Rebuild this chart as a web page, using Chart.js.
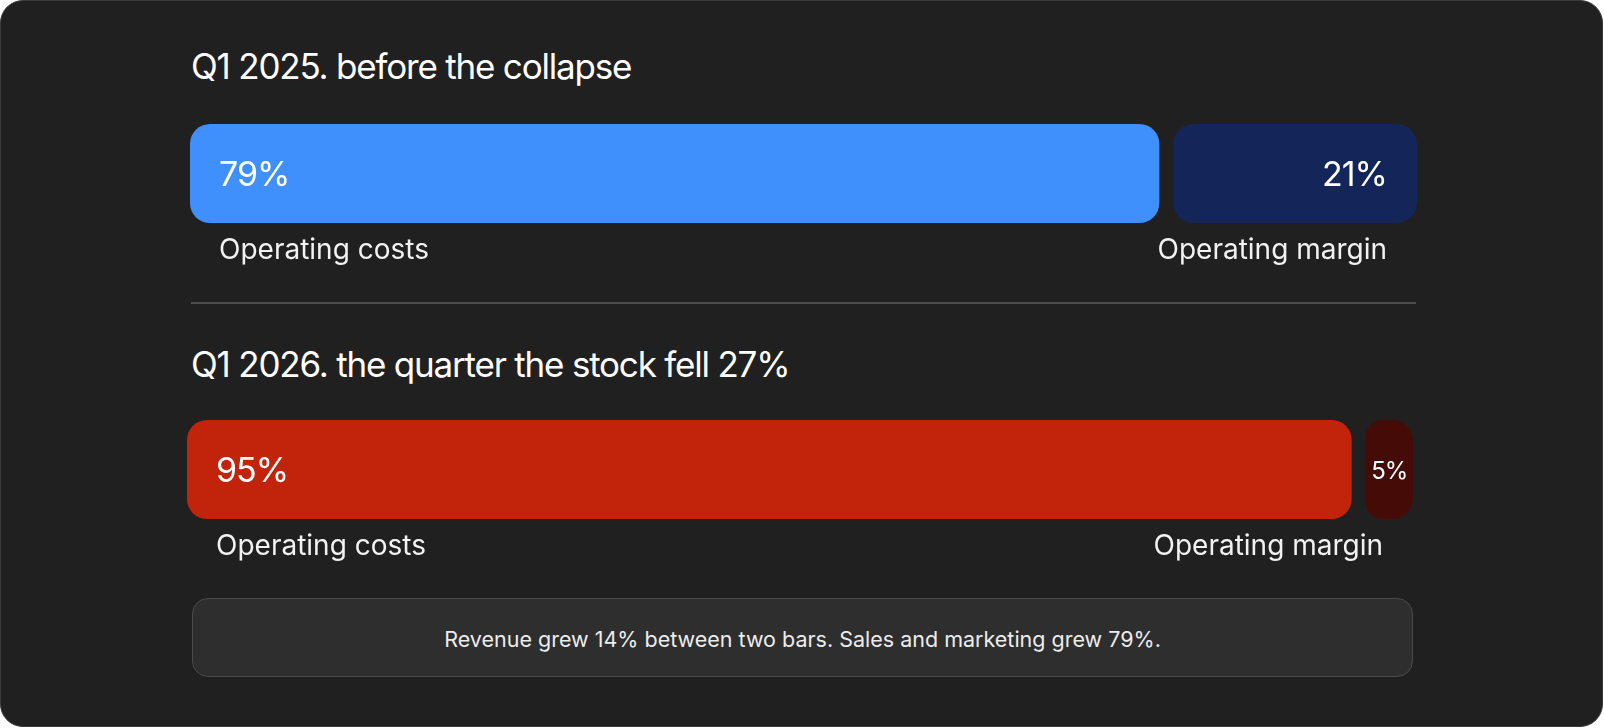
<!DOCTYPE html>
<html>
<head>
<meta charset="utf-8">
<script src="https://cdn.jsdelivr.net/npm/chart.js@4.4.1/dist/chart.umd.min.js"></script>
<style>
  html, body { margin: 0; padding: 0; background: #ffffff; }
  body { width: 1604px; height: 728px; position: relative; overflow: hidden; font-family: Inter, "Noto Sans", sans-serif; }
  #card { position: absolute; left: 0; top: 0; width: 1603px; height: 727px; box-sizing: border-box;
          background: #202020; border: 1px solid #3a3a3a; border-radius: 23px; }
  .title { position: absolute; left: 191px; color: #ffffff; font-size: 35px; line-height: 35px;
           letter-spacing: -1.2px; font-weight: 400; white-space: nowrap; }
  #divider { position: absolute; left: 191px; top: 302px; width: 1225px; height: 2px; background: #4e4e4e; }
  .row { position: absolute; }
  #note { position: absolute; left: 192px; top: 598px; width: 1221px; height: 79px; box-sizing: border-box;
          background: #2e2e2e; border: 1.5px solid #4a4a4a; border-radius: 16px;
          display: flex; align-items: center; justify-content: center;
          color: #ececec; font-size: 21.5px; line-height: 22px; letter-spacing: 0px; white-space: nowrap; padding-top: 2px; }
</style>
</head>
<body>
<div id="card"></div>
<div class="title" id="title0" style="top:49px"></div>
<div class="title" id="title1" style="top:347px"></div>
<div id="divider"></div>
<div class="row" id="row0" style="left:190px; top:124px; width:1227px; height:150px;"><canvas id="c0"></canvas></div>
<div class="row" id="row1" style="left:187px; top:420px; width:1226px; height:150px;"><canvas id="c1"></canvas></div>
<div id="note"></div>

<script>
// ---- data ----
const periods = ["Q1 2025", "Q1 2026"];
const titles = ["Q1 2025. before the collapse", "Q1 2026. the quarter the stock fell 27%"];
const segments = ["Operating costs", "Operating margin"];
const costsShare = [79, 95];
const marginShare = [21, 5];
const note = "Revenue grew 14% between two bars. Sales and marketing grew 79%.";

// ---- styles ----
const costColors = ["#3f8ffc", "#c1230b"];
const marginColors = ["#14255a", "#450b07"];
const GAP = 14;
const RADIUS = 20;
const LABEL_SPACE = 51;

document.getElementById("title0").textContent = titles[0];
document.getElementById("title1").textContent = titles[1];
document.getElementById("note").textContent = note;

const labelPlugin = {
  id: "segLabels",
  afterDatasetsDraw(chart) {
    const ctx = chart.ctx;
    const area = chart.chartArea;
    ctx.save();
    ctx.fillStyle = "#ffffff";
    try { ctx.letterSpacing = "-1px"; } catch (e) {}
    ctx.font = "400 34px Inter, 'Noto Sans', sans-serif";
    ctx.textBaseline = "middle";
    const m0 = chart.getDatasetMeta(0).data[0];
    const m1 = chart.getDatasetMeta(1).data[0];
    const d0 = chart.data.datasets[0];
    const d1 = chart.data.datasets[1];
    const yMid = m0.y + 2;
    // costs value
    ctx.textAlign = "left";
    ctx.fillText(d0.data[0] + "%", m0.base + 29, yMid);
    // margin value
    const t1 = d1.data[0] + "%";
    const w1 = ctx.measureText(t1).width;
    const innerLeft = m1.base + GAP;
    const innerW = m1.x - innerLeft;
    if (m1.x - 30 - w1 >= innerLeft + 8) {
      ctx.textAlign = "right";
      ctx.fillText(t1, m1.x - 30, yMid);
    } else {
      let size = 34;
      while (size > 12) {
        ctx.font = "400 " + size + "px Inter, 'Noto Sans', sans-serif";
        if (ctx.measureText(t1).width <= innerW - 10) break;
        size -= 1;
      }
      ctx.textAlign = "center";
      ctx.fillText(t1, innerLeft + innerW / 2, yMid);
    }
    // segment names
    try { ctx.letterSpacing = "0px"; } catch (e) {}
    ctx.font = "400 28px Inter, 'Noto Sans', sans-serif";
    ctx.fillStyle = "#f2f2f2";
    const yLab = area.bottom + 28;
    ctx.textAlign = "left";
    ctx.fillText(d0.label, m0.base + 29, yLab);
    ctx.textAlign = "right";
    ctx.fillText(d1.label, m1.x - 30, yLab);
    ctx.restore();
  }
};

function makeRow(i) {
  const el = document.getElementById("c" + i);
  return new Chart(el, {
    type: "bar",
    data: {
      labels: [periods[i]],
      datasets: [
        {
          label: segments[0],
          data: [costsShare[i]],
          backgroundColor: costColors[i],
          borderWidth: 0,
          borderRadius: { topLeft: RADIUS, bottomLeft: RADIUS, topRight: RADIUS, bottomRight: RADIUS },
          borderSkipped: false,
          inflateAmount: 0
        },
        {
          label: segments[1],
          data: [marginShare[i]],
          backgroundColor: marginColors[i],
          borderColor: "rgba(0,0,0,0)",
          borderWidth: { left: GAP, top: 0, right: 0, bottom: 0 },
          borderRadius: { topLeft: RADIUS + GAP, bottomLeft: RADIUS + GAP, topRight: RADIUS, bottomRight: RADIUS },
          borderSkipped: false,
          inflateAmount: 0
        }
      ]
    },
    options: {
      indexAxis: "y",
      responsive: true,
      maintainAspectRatio: false,
      animation: false,
      events: [],
      layout: { padding: { left: 0, right: 0, top: 0, bottom: LABEL_SPACE } },
      datasets: { bar: { barPercentage: 1, categoryPercentage: 1 } },
      scales: {
        x: { stacked: true, min: 0, max: 100, display: false },
        y: { stacked: true, display: false }
      },
      plugins: { legend: { display: false }, tooltip: { enabled: false }, title: { display: false } }
    },
    plugins: [labelPlugin]
  });
}

makeRow(0);
makeRow(1);
</script>
</body>
</html>
